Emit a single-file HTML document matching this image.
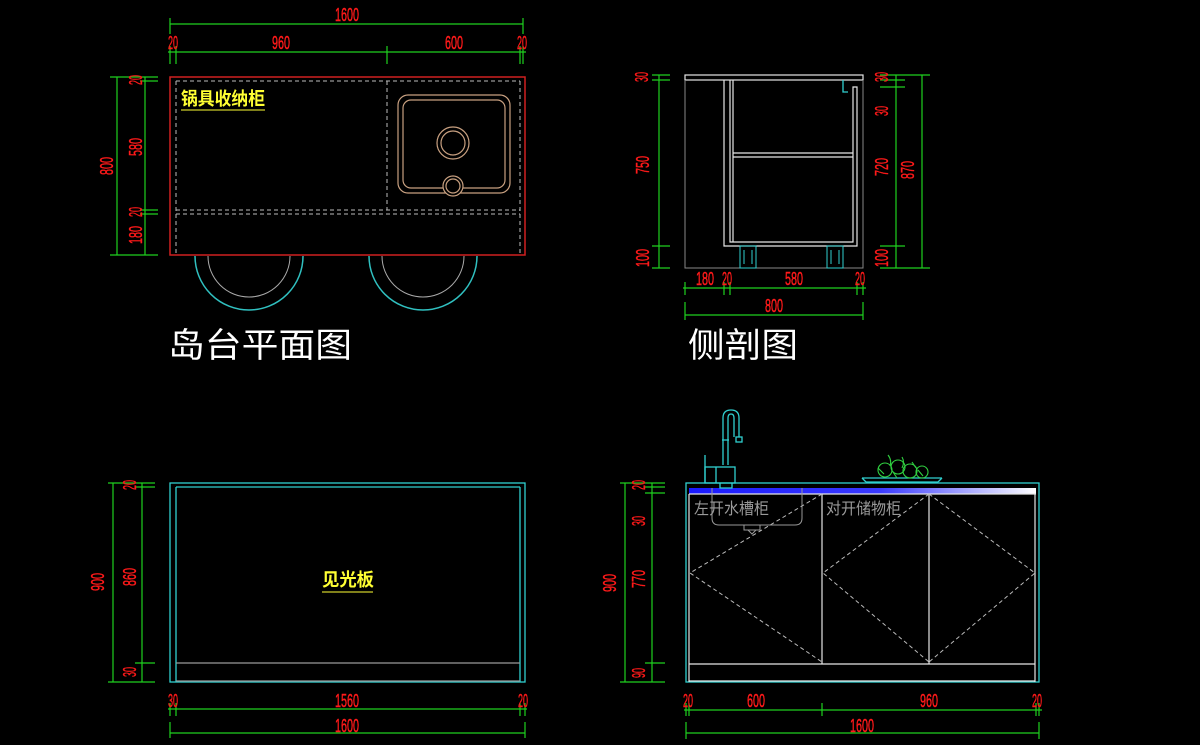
<!DOCTYPE html>
<html><head><meta charset="utf-8"><style>
html,body{margin:0;padding:0;background:#000;}
svg{display:block}
.d{fill:#ff1a1a;stroke:#ff1a1a;stroke-width:0.4;font-family:"Liberation Sans",sans-serif;font-size:18px;}
.g{stroke:#1fd01f;stroke-width:1.2;fill:none}
.w{stroke:#e6e6e6;fill:none;stroke-width:1.2}
.c{stroke:#30d0d0;fill:none;stroke-width:1.3}
.dash{stroke:#bbb;fill:none;stroke-width:1;stroke-dasharray:4 3}
.t{fill:#fff;font-family:"Liberation Sans","Noto Sans CJK SC",sans-serif;font-size:34px}
.y{fill:#ffff33;font-family:"Liberation Sans","Noto Sans CJK SC",sans-serif;font-size:18px;font-weight:bold}
.gr{fill:#9a9a9a;font-family:"Liberation Sans","Noto Sans CJK SC",sans-serif;font-size:16px}
</style></head><body>
<svg width="1200" height="745" viewBox="0 0 1200 745" xmlns="http://www.w3.org/2000/svg">
<rect width="1200" height="745" fill="#000"/>

<!-- ============ TOP LEFT PLAN ============ -->
<g class="g">
<path d="M170 24H523 M170 18V34 M523 18V34"/>
<path d="M168 52H526 M170 46V64 M176 46V64 M387 46V64 M520 46V64 M523 46V64"/>
<path d="M117 77V255 M145 77V255 M110 77H158 M140 81H158 M140 210H158 M140 214H158 M110 255H158"/>
</g>
<text class="d" x="347" y="21" text-anchor="middle" textLength="24" lengthAdjust="spacingAndGlyphs">1600</text>
<text class="d" x="173" y="49" text-anchor="middle" textLength="10" lengthAdjust="spacingAndGlyphs">20</text>
<text class="d" x="281" y="49" text-anchor="middle" textLength="18" lengthAdjust="spacingAndGlyphs">960</text>
<text class="d" x="454" y="49" text-anchor="middle" textLength="18" lengthAdjust="spacingAndGlyphs">600</text>
<text class="d" x="522" y="49" text-anchor="middle" textLength="10" lengthAdjust="spacingAndGlyphs">20</text>
<text class="d" transform="rotate(-90 113 166)" x="113" y="166" text-anchor="middle" textLength="18" lengthAdjust="spacingAndGlyphs">800</text>
<text class="d" transform="rotate(-90 142 80)" x="142" y="80" text-anchor="middle" textLength="10" lengthAdjust="spacingAndGlyphs">20</text>
<text class="d" transform="rotate(-90 142 147)" x="142" y="147" text-anchor="middle" textLength="18" lengthAdjust="spacingAndGlyphs">580</text>
<text class="d" transform="rotate(-90 142 212)" x="142" y="212" text-anchor="middle" textLength="10" lengthAdjust="spacingAndGlyphs">20</text>
<text class="d" transform="rotate(-90 142 235)" x="142" y="235" text-anchor="middle" textLength="18" lengthAdjust="spacingAndGlyphs">180</text>

<rect x="170" y="77" width="355" height="178" fill="none" stroke="#d02020" stroke-width="1.5"/>
<path class="dash" d="M176 81H520 M176 81V255 M520 81V255 M387 81V210 M176 210H520 M176 214H520"/>
<text class="y" x="181" y="105" textLength="84" lengthAdjust="spacingAndGlyphs">锅具收纳柜</text>
<path d="M181 110H265" stroke="#ffff33" stroke-width="1"/>
<g stroke="#c8a080" fill="none" stroke-width="1.2">
<rect x="398" y="95" width="112" height="98" rx="10"/>
<rect x="403" y="100" width="102" height="88" rx="8"/>
<circle cx="453" cy="143" r="16"/><circle cx="453" cy="143" r="12"/>
<circle cx="453" cy="186" r="10" fill="#000"/><circle cx="453" cy="186" r="7"/>
</g>
<g fill="none">
<path d="M195 256A54 54 0 0 0 303 256" stroke="#30c0c0" stroke-width="1.5"/>
<path d="M208 256A41 41 0 0 0 290 256" stroke="#aaa"/>
<path d="M369 256A54 54 0 0 0 477 256" stroke="#30c0c0" stroke-width="1.5"/>
<path d="M382 256A41 41 0 0 0 464 256" stroke="#aaa"/>
</g>
<text class="t" x="168" y="357" textLength="184" lengthAdjust="spacingAndGlyphs">岛台平面图</text>

<!-- ============ TOP RIGHT SECTION ============ -->
<g class="g">
<path d="M659 75V268 M652 75H670 M652 80H670 M652 246H670 M652 268H670"/>
<path d="M896 75V268 M922 75V268 M880 75H930 M880 80H905 M880 87H905 M880 246H905 M880 268H930"/>
<path d="M683 288H866 M685 282V295 M724 282V295 M730 282V295 M857 282V295 M863 282V295"/>
<path d="M685 315H863 M685 302V320 M863 302V320"/>
</g>
<text class="d" transform="rotate(-90 648 77)" x="648" y="77" text-anchor="middle" textLength="10" lengthAdjust="spacingAndGlyphs">30</text>
<text class="d" transform="rotate(-90 649 165)" x="649" y="165" text-anchor="middle" textLength="18" lengthAdjust="spacingAndGlyphs">750</text>
<text class="d" transform="rotate(-90 649 258)" x="649" y="258" text-anchor="middle" textLength="18" lengthAdjust="spacingAndGlyphs">100</text>
<text class="d" transform="rotate(-90 888 77)" x="888" y="77" text-anchor="middle" textLength="10" lengthAdjust="spacingAndGlyphs">30</text>
<text class="d" transform="rotate(-90 888 111)" x="888" y="111" text-anchor="middle" textLength="10" lengthAdjust="spacingAndGlyphs">30</text>
<text class="d" transform="rotate(-90 888 167)" x="888" y="167" text-anchor="middle" textLength="18" lengthAdjust="spacingAndGlyphs">720</text>
<text class="d" transform="rotate(-90 888 258)" x="888" y="258" text-anchor="middle" textLength="18" lengthAdjust="spacingAndGlyphs">100</text>
<text class="d" transform="rotate(-90 914 170)" x="914" y="170" text-anchor="middle" textLength="18" lengthAdjust="spacingAndGlyphs">870</text>
<text class="d" x="705" y="285" text-anchor="middle" textLength="18" lengthAdjust="spacingAndGlyphs">180</text>
<text class="d" x="727" y="285" text-anchor="middle" textLength="10" lengthAdjust="spacingAndGlyphs">20</text>
<text class="d" x="794" y="285" text-anchor="middle" textLength="18" lengthAdjust="spacingAndGlyphs">580</text>
<text class="d" x="860" y="285" text-anchor="middle" textLength="10" lengthAdjust="spacingAndGlyphs">20</text>
<text class="d" x="774" y="312" text-anchor="middle" textLength="18" lengthAdjust="spacingAndGlyphs">800</text>

<rect x="685" y="75" width="178" height="5" class="w"/>
<path d="M685 80V268H863V80" stroke="#888" fill="none"/>
<path class="w" d="M724 80V246H857V87H853V242H730V80 M733 80V242 M733 153H853 M733 157H853"/>
<path class="c" d="M843 80V92H848"/>
<g stroke="#30d0d0" fill="none">
<rect x="740" y="246" width="16" height="22"/><rect x="827" y="246" width="16" height="22"/>
<path d="M744 250V264 M752 250V264 M831 250V264 M839 250V264"/>
</g>
<text class="t" x="688" y="357" textLength="110" lengthAdjust="spacingAndGlyphs">侧剖图</text>

<!-- ============ BOTTOM LEFT ============ -->
<g class="g">
<path d="M113 483V682 M142 483V682 M108 483H155 M135 487H155 M135 663H155 M108 682H155"/>
<path d="M168 709H527 M170 703V716 M176 703V716 M520 703V716 M525 703V716"/>
<path d="M170 733H525 M170 722V738 M525 722V738"/>
</g>
<text class="d" transform="rotate(-90 104 582)" x="104" y="582" text-anchor="middle" textLength="18" lengthAdjust="spacingAndGlyphs">900</text>
<text class="d" transform="rotate(-90 136 485)" x="136" y="485" text-anchor="middle" textLength="10" lengthAdjust="spacingAndGlyphs">20</text>
<text class="d" transform="rotate(-90 136 577)" x="136" y="577" text-anchor="middle" textLength="18" lengthAdjust="spacingAndGlyphs">860</text>
<text class="d" transform="rotate(-90 136 672)" x="136" y="672" text-anchor="middle" textLength="10" lengthAdjust="spacingAndGlyphs">30</text>
<text class="d" x="173" y="707" text-anchor="middle" textLength="10" lengthAdjust="spacingAndGlyphs">30</text>
<text class="d" x="347" y="707" text-anchor="middle" textLength="24" lengthAdjust="spacingAndGlyphs">1560</text>
<text class="d" x="523" y="707" text-anchor="middle" textLength="10" lengthAdjust="spacingAndGlyphs">20</text>
<text class="d" x="347" y="732" text-anchor="middle" textLength="24" lengthAdjust="spacingAndGlyphs">1600</text>

<rect x="170" y="483" width="355" height="199" class="c"/>
<path class="c" d="M176 487V682 M520 487V682 M176 487H520"/>
<path d="M176 663H520 M176 681H520" stroke="#999" stroke-width="1.2"/>
<text class="y" x="322" y="586" textLength="52" lengthAdjust="spacingAndGlyphs">见光板</text>
<path d="M322 592H373" stroke="#ffff33" stroke-width="1"/>

<!-- ============ BOTTOM RIGHT ============ -->
<g class="g">
<path d="M625 483V682 M652 483V682 M620 483H665 M645 487H665 M645 493H665 M645 663H665 M620 682H665"/>
<path d="M684 710H1042 M686 703V716 M689 703V716 M822 703V716 M1036 703V716 M1039 703V716"/>
<path d="M686 733H1039 M686 722V739 M1039 722V739"/>
</g>
<text class="d" transform="rotate(-90 616 583)" x="616" y="583" text-anchor="middle" textLength="18" lengthAdjust="spacingAndGlyphs">900</text>
<text class="d" transform="rotate(-90 645 485)" x="645" y="485" text-anchor="middle" textLength="10" lengthAdjust="spacingAndGlyphs">20</text>
<text class="d" transform="rotate(-90 645 521)" x="645" y="521" text-anchor="middle" textLength="10" lengthAdjust="spacingAndGlyphs">30</text>
<text class="d" transform="rotate(-90 645 579)" x="645" y="579" text-anchor="middle" textLength="18" lengthAdjust="spacingAndGlyphs">770</text>
<text class="d" transform="rotate(-90 645 673)" x="645" y="673" text-anchor="middle" textLength="10" lengthAdjust="spacingAndGlyphs">90</text>
<text class="d" x="688" y="707" text-anchor="middle" textLength="10" lengthAdjust="spacingAndGlyphs">20</text>
<text class="d" x="756" y="707" text-anchor="middle" textLength="18" lengthAdjust="spacingAndGlyphs">600</text>
<text class="d" x="929" y="707" text-anchor="middle" textLength="18" lengthAdjust="spacingAndGlyphs">960</text>
<text class="d" x="1037" y="707" text-anchor="middle" textLength="10" lengthAdjust="spacingAndGlyphs">20</text>
<text class="d" x="862" y="732" text-anchor="middle" textLength="24" lengthAdjust="spacingAndGlyphs">1600</text>

<defs><linearGradient id="bl" x1="0" x2="1"><stop offset="0" stop-color="#1a1aff"/><stop offset="0.55" stop-color="#3a3aff"/><stop offset="1" stop-color="#ffffff"/></linearGradient></defs>
<rect x="686" y="483" width="353" height="199" class="c"/>
<rect x="689" y="488" width="347" height="6" fill="url(#bl)"/>
<path class="w" d="M689 494H1036 M689 494V682 M1035 494V682 M822 494V664 M929 494V664 M689 664H1035 M689 681H1035"/>
<path class="dash" d="M822 494L690 573L822 662 M929 494L823 573L929 662 M929 494L1035 573L929 662"/>
<path d="M712 488V518Q712 525 719 525H795Q802 525 802 518V488" stroke="#999" fill="none"/>
<path d="M744 525V530H760V525 M748 530L752 534L756 530" stroke="#999" fill="none"/>
<text class="gr" x="694" y="514" textLength="75" lengthAdjust="spacingAndGlyphs">左开水槽柜</text>
<text class="gr" x="826" y="514" textLength="75" lengthAdjust="spacingAndGlyphs">对开储物柜</text>
<!-- faucet -->
<g class="c">
<path d="M723 465V418Q723 410 731 410Q739 410 739 418V437"/>
<path d="M728 465V418Q728 414 731 414Q734 414 734 418V437"/>
<rect x="736" y="437" width="6" height="5"/>
<rect x="705" y="467" width="30" height="16"/>
<path d="M705 455V483 M716 467V483 M722 440H729 M720 483V488H732V483"/>
</g>
<!-- fruit -->
<g>
<path d="M862 478H942 M866 482H938 M862 478L866 482 M942 478L938 482" class="c"/>
<g stroke="#30d040" fill="none" stroke-width="1.1">
<circle cx="885" cy="470" r="7"/><circle cx="898" cy="467" r="7"/><circle cx="910" cy="471" r="7"/><circle cx="922" cy="472" r="6"/>
<path d="M888 455Q892 460 890 466 M902 457Q905 462 902 468 M912 462L916 468 M878 468L884 474 M893 472L897 478 M918 470L923 476"/>
</g>
</g>
</svg>
</body></html>
